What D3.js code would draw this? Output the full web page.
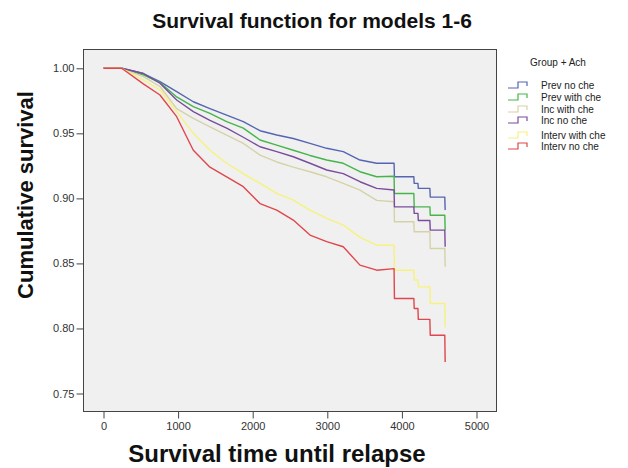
<!DOCTYPE html>
<html>
<head>
<meta charset="utf-8">
<script src="https://cdn.jsdelivr.net/npm/d3@7"></script>
<style>
body{margin:0;background:#fff;}
svg{font-family:"Liberation Sans",Arial,sans-serif;}
.axis text{font-size:11px;fill:#333;}
.axis line{stroke:#444;}
.axis path{display:none;}
</style>
</head>
<body>
<div id="chart"></div>
<script>
// (days, cumulative survival); the drop times near the end are listed twice (before / after)
var days=[0,244,534,757,981,1204,1427,1651,1874,2098,2322,2544,2768,2992,3214,3438,3662,3895,3900,4160,4165,4215,4220,4375,4380,4575,4580];
var prevNoChe=[1,1,0.996,0.9897,0.982,0.9743,0.969,0.964,0.959,0.952,0.9487,0.946,0.9423,0.9385,0.9359,0.9295,0.927,0.927,0.9166,0.9166,0.9115,0.9115,0.9077,0.9077,0.901,0.901,0.891];
var prevWithChe=[1,1,0.9949,0.989,0.978,0.9705,0.9654,0.959,0.954,0.9449,0.941,0.937,0.933,0.9295,0.927,0.9205,0.9166,0.917,0.9038,0.9038,0.8935,0.8935,0.8935,0.8935,0.887,0.887,0.8756];
var incWithChe=[1,1,0.9936,0.986,0.969,0.9615,0.955,0.9487,0.9423,0.9333,0.928,0.924,0.9205,0.9166,0.9115,0.9064,0.8985,0.8974,0.882,0.882,0.8743,0.8743,0.8743,0.8743,0.8615,0.8615,0.8474];
var incNoChe=[1,1,0.996,0.9885,0.9756,0.9667,0.960,0.954,0.947,0.9397,0.936,0.932,0.927,0.9218,0.919,0.9128,0.9077,0.9064,0.8935,0.8935,0.8885,0.8885,0.883,0.883,0.8756,0.8756,0.8628];
var intervWithChe=[1,1,0.991,0.9833,0.9667,0.95,0.937,0.927,0.919,0.9115,0.9038,0.8987,0.891,0.8846,0.8795,0.870,0.864,0.864,0.8448,0.8448,0.8372,0.8372,0.832,0.832,0.8192,0.8192,0.801];
var intervNoChe=[1,1,0.988,0.9795,0.9628,0.937,0.924,0.9166,0.909,0.896,0.891,0.8833,0.8718,0.8667,0.8628,0.8487,0.8448,0.846,0.823,0.823,0.8154,0.8154,0.807,0.807,0.7948,0.7948,0.7743];

var groupNames=["Prev no che","Prev with che","Inc with che","Inc no che","Interv with che","Interv no che"];
var groupColors=["#5565b3","#45b54a","#d6d2a8","#7a4c9c","#f6f27c","#e0464b"];
var xTicks=[0,1000,2000,3000,4000,5000];
var yTicks=[0.75,0.80,0.85,0.90,0.95,1.00];

var series=[prevNoChe,prevWithChe,incWithChe,incNoChe,intervWithChe,intervNoChe];

var W=628,H=468;
var svg=d3.select("#chart").append("svg").attr("width",W).attr("height",H);

// plot frame
var fx=83.5,fy=49.5,fw=413,fh=362;
svg.append("rect")
	.attr("x",fx).attr("y",fy).attr("width",fw).attr("height",fh)
	.attr("fill","#f0f0f0").attr("stroke","#444").attr("stroke-width",1);

var x=d3.scaleLinear().domain([0,5000]).range([103.5,476.5]);
var y=d3.scaleLinear().domain([0.75,1]).range([393.5,68.3]);

svg.append("g")
	.attr("class","axis")
	.attr("transform","translate("+fx+",0)")
	.call(d3.axisLeft(y).tickValues(yTicks).tickFormat(d3.format(".2f")).tickSize(7).tickPadding(2));

svg.append("g")
	.attr("class","axis")
	.attr("transform","translate(0,"+(fy+fh)+")")
	.call(d3.axisBottom(x).tickValues(xTicks).tickFormat(d3.format("d")).tickSize(7).tickPadding(4));

// survival lines
var line=d3.line()
	.x(function(d){return x(d[0]);})
	.y(function(d){return y(d[1]);});

series.forEach(function(s,i){
	var pts=days.map(function(t,j){return [t,s[j]];});
	svg.append("path")
		.attr("d",line(pts))
		.attr("fill","none")
		.attr("stroke",groupColors[i])
		.attr("stroke-width",1.4)
		.attr("stroke-linejoin","round");
});

// titles
svg.append("text")
	.attr("x",312).attr("y",28)
	.attr("text-anchor","middle")
	.attr("font-size",21).attr("font-weight","bold").attr("fill","#111")
	.text("Survival function for models 1-6");

svg.append("text")
	.attr("x",277).attr("y",462)
	.attr("text-anchor","middle")
	.attr("font-size",24).attr("font-weight","bold").attr("fill","#111")
	.text("Survival time until relapse");

svg.append("text")
	.attr("transform","translate(33,195) rotate(-90)")
	.attr("text-anchor","middle")
	.attr("font-size",22).attr("font-weight","bold").attr("fill","#111")
	.text("Cumulative survival");

// legend
var legendY=[85,97,109,120,135,146];
var lg=svg.append("g");
lg.append("text")
	.attr("x",558).attr("y",66)
	.attr("text-anchor","middle")
	.attr("font-size",10).attr("fill","#222")
	.text("Group + Ach");

groupNames.forEach(function(name,i){
	var cy=legendY[i];
	lg.append("path")
		.attr("d","M508,"+(cy+3)+"H518V"+(cy-3)+"H527V"+(cy+1))
		.attr("fill","none")
		.attr("stroke",groupColors[i])
		.attr("stroke-width",1.2);
	lg.append("text")
		.attr("x",541).attr("y",cy+3.5)
		.attr("font-size",10).attr("fill","#222")
		.text(name);
});
</script>
</body>
</html>
